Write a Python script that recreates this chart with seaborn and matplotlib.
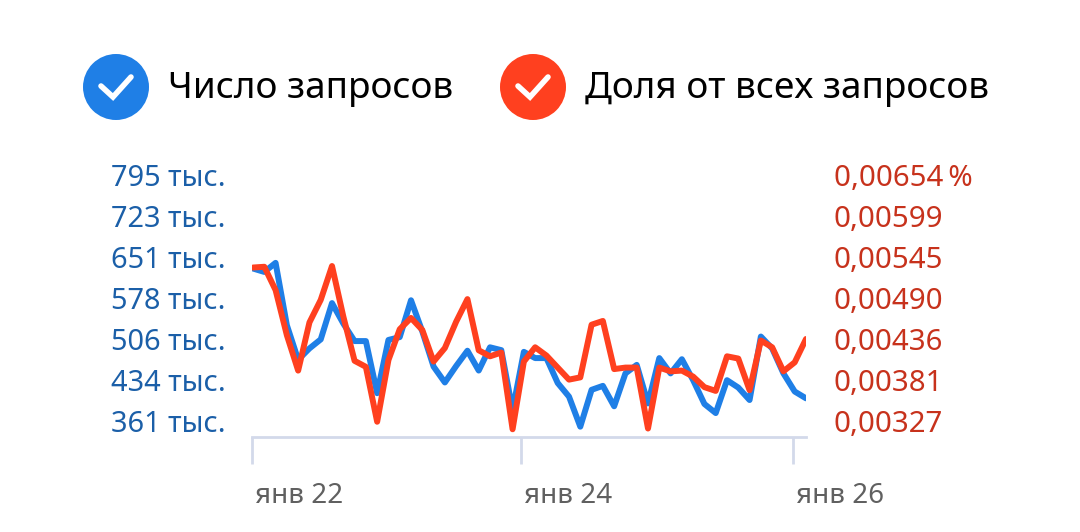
import matplotlib
matplotlib.use("Agg")
import matplotlib.pyplot as plt
from matplotlib.patches import Circle
from matplotlib.transforms import ScaledTranslation
import numpy as np
import pandas as pd
import seaborn as sns

FONT = "Noto Sans"

queries = [630,624,640,530,469,489,505,569,533,502,502,410,504,509,574,519,457,429,458,485,
           450,491,486,380,483,472,472,428,404,351,416,423,387,445,460,392,472,445,470,433,
           391,375,433,420,398,510,489,445,413,401]
share = [.00531,.00532,.00501,.00441,.00394,.00458,.00488,.00533,.00466,.00407,.00399,.00326,
         .00408,.00449,.00464,.00448,.00406,.00424,.00459,.00489,.00421,.00413,.00418,.00316,
         .00406,.00425,.00414,.00398,.00382,.00385,.00455,.00460,.00396,.00398,.00398,.00317,
         .00398,.00393,.00394,.00386,.00372,.00367,.00413,.00410,.00368,.00434,.00425,.00393,
         .00405,.00436]
left_ticks = [361,434,506,578,651,723,795]
left_labels = [f"{v} тыс." for v in left_ticks]
right_ticks = [.00327,.00381,.00436,.00490,.00545,.00599,.00654]
right_labels = ["0,00327","0,00381","0,00436","0,00490","0,00545","0,00599","0,00654\u2009%"]
x_ticks = [-0.09,23.75,47.85]
x_labels = ["янв 22","янв 24","янв 26"]
legend_labels = ["Число запросов","Доля от всех запросов"]

BLUE, RED = "#1f7fe6", "#ff401f"
W, H = 1080, 532
sns.set_theme(style="white")
plt.rcParams["font.family"] = [FONT, "DejaVu Sans"]

df = pd.DataFrame({"m": range(len(queries)), "q": queries, "s": share})
fig = plt.figure(figsize=(W/100, H/100), dpi=100)
ax = fig.add_axes([252/W, 1-437/H, 554/W, 272/H])
ax2 = ax.twinx()
sns.lineplot(data=df, x="m", y="q", ax=ax, color=BLUE, lw=4.3, solid_joinstyle="round")
sns.lineplot(data=df, x="m", y="s", ax=ax2, color=RED, lw=4.3, solid_joinstyle="round")

ax.set_xlim(-0.09, 49)
ax.set_ylim(361-16*434/246, 361+256*434/246)
ax2.set_ylim(.00327-16*.00327/246, .00327+256*.00327/246)
for a in (ax, ax2):
    a.set_xlabel(""); a.set_ylabel("")
    for s in a.spines.values():
        s.set_visible(False)
ax.spines["bottom"].set_visible(True)
ax.spines["bottom"].set_color("#d3d9ea")
ax.spines["bottom"].set_linewidth(2)

ax.set_yticks(left_ticks, left_labels)
ax.tick_params(axis="y", length=0, pad=19, labelsize=20.8, labelcolor="#1b5fa8")
ax2.set_yticks(right_ticks, right_labels)
ax2.tick_params(axis="y", length=0, pad=20, labelsize=21.2, labelcolor="#c7321c")
ax.set_xticks(x_ticks, x_labels, ha="left")
ax.tick_params(axis="x", bottom=True, length=19.5, width=2, color="#d3d9ea",
               pad=13, labelsize=20, labelcolor="#606060")
off = ScaledTranslation(3/100, 0, fig.dpi_scale_trans)
for t in ax.get_xticklabels():
    t.set_transform(t.get_transform() + off)

ov = fig.add_axes([0, 0, 1, 1], facecolor="none")
ov.set_xlim(0, W); ov.set_ylim(H, 0); ov.axis("off")
for cx, col, lab, tx in zip([116, 533], [BLUE, RED], legend_labels, [168, 585]):
    ov.add_patch(Circle((cx, 87), 33, color=col, lw=0))
    ov.plot([cx-15, cx-3, cx+15], [86, 97, 77], color="white", lw=4, solid_joinstyle="miter")
    ov.text(tx, 89, lab, fontsize=26.6, color="black", va="center", ha="left")

fig.savefig("out.png", dpi=100, facecolor="white")
